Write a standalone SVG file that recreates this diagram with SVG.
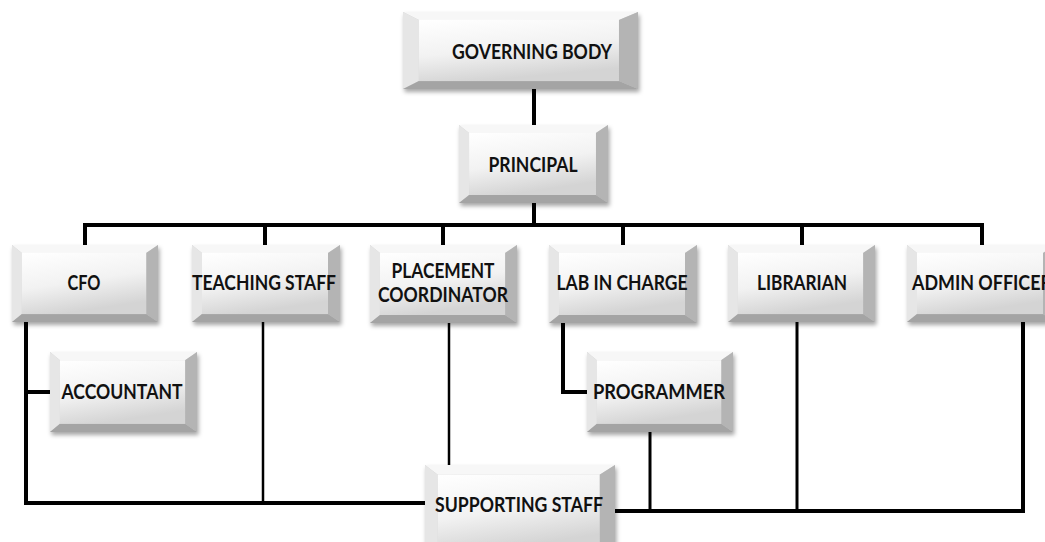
<svg xmlns="http://www.w3.org/2000/svg" xmlns:xlink="http://www.w3.org/1999/xlink" width="1045" height="542" viewBox="0 0 1045 542">
<style>
.t{font-family:Lato,"Open Sans","Liberation Sans",sans-serif;font-weight:bold;font-size:20px;fill:#111;text-anchor:middle}
.c{fill:none;stroke:#000;stroke-linejoin:miter;stroke-linecap:square}
.w4{stroke-width:4}
.w3{stroke-width:3}
.w2{stroke-width:2.5}
</style>
<defs>
<linearGradient id="face" x1="0" y1="0" x2="0.3" y2="1">
<stop offset="0" stop-color="#ffffff"/>
<stop offset="0.55" stop-color="#f2f2f2"/>
<stop offset="1" stop-color="#d4d4d4"/>
</linearGradient>
<filter id="sh" x="-10%" y="-10%" width="125%" height="135%">
<feDropShadow dx="1.5" dy="3" stdDeviation="2" flood-color="#000" flood-opacity="0.35"/>
</filter>
<symbol id="bevel" viewBox="0 0 148 78" preserveAspectRatio="none">
<rect x="0" y="0" width="148" height="78" fill="#d0d0d0"/>
<polygon points="0,0 148,0 136,8 10,8" fill="#f7f7f7"/>
<polygon points="0,0 10,8 10,70 0,78" fill="#e6e6e6"/>
<polygon points="148,0 148,78 136,70 136,8" fill="#b4b4b4"/>
<polygon points="0,78 10,70 136,70 148,78" fill="#a4a4a4"/>
<rect x="10" y="8" width="126" height="62" fill="url(#face)"/>
</symbol>
</defs>
<g id="connectors">
<path class="c w4" d="M534 89 V125"/>
<path class="c w4" d="M534 203 V225"/>
<path class="c w4" d="M85 245 V225 H982 V245"/>
<path class="c w4" d="M265 225 V245 M443 225 V245 M623 225 V245 M802 225 V245"/>
<path class="c w4" d="M26 322 V503 H427 M26 392 H50"/>
<path class="c w2" d="M263 322 V503"/>
<path class="c w2" d="M449 323 V465"/>
<path class="c w4" d="M563 323 V392 H587"/>
<path class="c w3" d="M650 432 V511"/>
<path class="c w3" d="M797 320 V511"/>
<path class="c w4" d="M613 511 H1023 V322"/>
</g>
<g id="governing-body">
<use href="#bevel" x="403" y="12" width="235" height="77" filter="url(#sh)"/>
<text class="t" x="532" y="59" textLength="160" lengthAdjust="spacingAndGlyphs">GOVERNING BODY</text>
</g>
<g id="principal">
<use href="#bevel" x="459" y="125" width="149" height="78" filter="url(#sh)"/>
<text class="t" x="533" y="172" textLength="89" lengthAdjust="spacingAndGlyphs">PRINCIPAL</text>
</g>
<g id="cfo">
<use href="#bevel" x="12" y="245" width="146" height="77" filter="url(#sh)"/>
<text class="t" x="84" y="290" textLength="33" lengthAdjust="spacingAndGlyphs">CFO</text>
</g>
<g id="teaching-staff">
<use href="#bevel" x="192" y="245" width="148" height="77" filter="url(#sh)"/>
<text class="t" x="264" y="290" textLength="144" lengthAdjust="spacingAndGlyphs">TEACHING STAFF</text>
</g>
<g id="placement-coordinator">
<use href="#bevel" x="370" y="245" width="147" height="78" filter="url(#sh)"/>
<text class="t" x="443" y="278" textLength="103" lengthAdjust="spacingAndGlyphs">PLACEMENT</text>
<text class="t" x="443" y="302" textLength="130" lengthAdjust="spacingAndGlyphs">COORDINATOR</text>
</g>
<g id="lab-in-charge">
<use href="#bevel" x="549" y="245" width="148" height="78" filter="url(#sh)"/>
<text class="t" x="622" y="290" textLength="131" lengthAdjust="spacingAndGlyphs">LAB IN CHARGE</text>
</g>
<g id="librarian">
<use href="#bevel" x="728" y="245" width="147" height="77" filter="url(#sh)"/>
<text class="t" x="802" y="290" textLength="90" lengthAdjust="spacingAndGlyphs">LIBRARIAN</text>
</g>
<g id="admin-officer">
<use href="#bevel" x="907" y="245" width="148" height="77" filter="url(#sh)"/>
<text class="t" x="912" y="290" style="text-anchor:start" textLength="140" lengthAdjust="spacingAndGlyphs">ADMIN OFFICER</text>
</g>
<g id="accountant">
<use href="#bevel" x="50" y="352" width="147" height="80" filter="url(#sh)"/>
<text class="t" x="122" y="399" textLength="121" lengthAdjust="spacingAndGlyphs">ACCOUNTANT</text>
</g>
<g id="programmer">
<use href="#bevel" x="587" y="352" width="146" height="80" filter="url(#sh)"/>
<text class="t" x="659" y="399" textLength="132" lengthAdjust="spacingAndGlyphs">PROGRAMMER</text>
</g>
<g id="supporting-staff">
<use href="#bevel" x="425" y="465" width="190" height="95" filter="url(#sh)"/>
<text class="t" x="519" y="512" textLength="168" lengthAdjust="spacingAndGlyphs">SUPPORTING STAFF</text>
</g>
</svg>
